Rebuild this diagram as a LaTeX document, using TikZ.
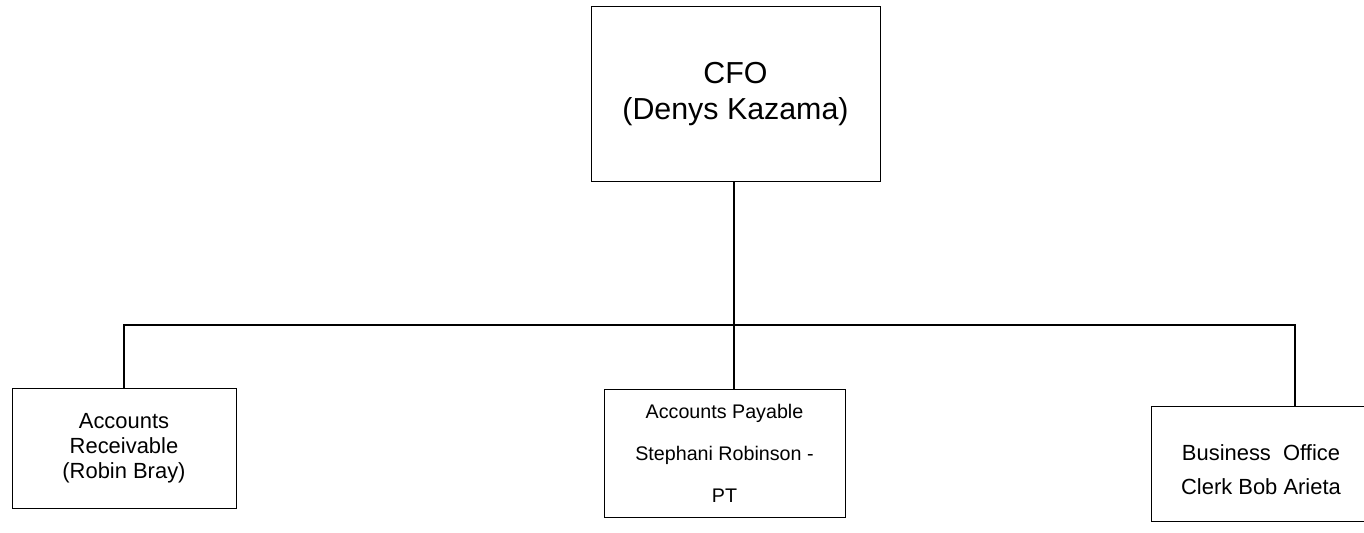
\documentclass[tikz,border=0pt]{standalone}
\usepackage{fontspec}
\setmainfont{Liberation Sans}

\tikzset{
	unitbox/.style={draw, line width=0.6pt, inner sep=0pt, align=center},
	orgline/.style={line width=1.3pt}
}

\begin{document}
\begin{tikzpicture}[x=0.025cm, y=-0.025cm]
				%%%%% START %%%%%
				\clip (0, 0) rectangle (1364, 533);
				
				\node[unitbox, minimum width=7.225cm, minimum height=4.375cm,
					font=\fontsize{21.6}{26.2}\selectfont] (cfo) at (735.5, 94)
					{CFO\\(Denys Kazama)};
				
				\node[unitbox, minimum width=5.6cm, minimum height=3cm,
					font=\fontsize{15.6}{17.7}\selectfont] (rec) at (124, 448)
					{Accounts\\Receivable\\(Robin Bray)};
				\node[unitbox, minimum width=6.025cm, minimum height=3.2cm,
					font=\fontsize{14}{29.8}\selectfont] (pay) at (724.5, 453)
					{Accounts Payable\\Stephani Robinson -\\PT};
				\node[unitbox, minimum width=5.5cm, minimum height=2.875cm,
					font=\fontsize{15.6}{24}\selectfont] (bus) at (1261, 463.5)
					{\rule{0pt}{20pt}Business\ \ Office\\Clerk Bob Arieta};
				
				\coordinate (drop) at (734, 0);
				\coordinate (jl) at (124, 325);
				\coordinate (jr) at (1295, 325);
				
				\draw[orgline] (drop |- cfo.south) -- (drop |- pay.north);
				\draw[orgline] (rec.north) -- (jl) -- (jr) -- (jr |- bus.north);
				%%%%% END %%%%%
			\end{tikzpicture}
\end{document}
